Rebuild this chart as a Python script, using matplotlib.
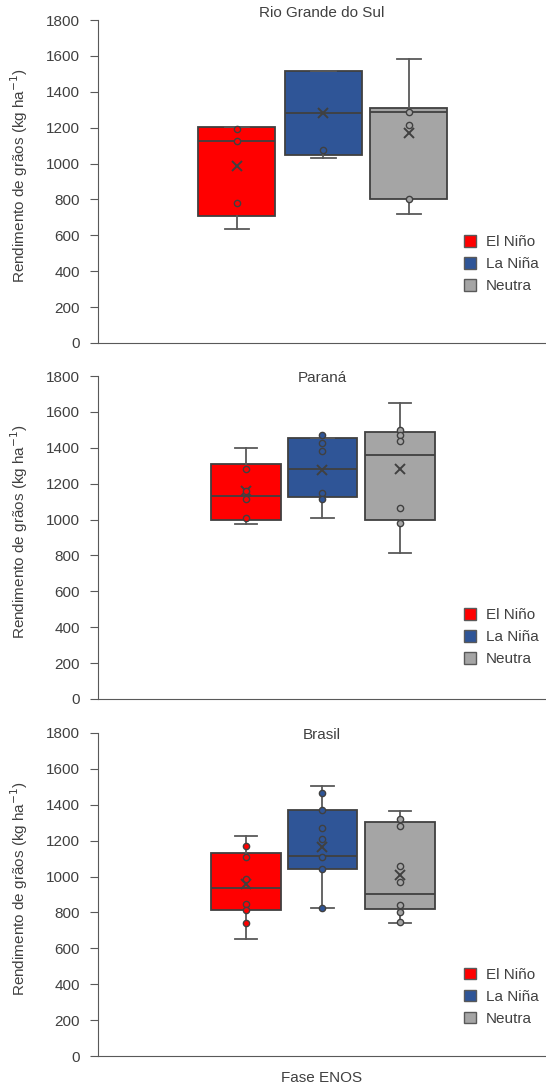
import numpy as np
import matplotlib.pyplot as plt
from matplotlib.patches import Patch

plt.rcParams['font.family'] = ['Liberation Sans', 'DejaVu Sans']

fases = ['El Niño', 'La Niña', 'Neutra']
cores = ['#ff0000', '#2f5597', '#a5a5a5']
regioes = ['Rio Grande do Sul', 'Paraná', 'Brasil']

# box stats per region: (whislo, q1, med, q3, whishi, mean) for El Niño, La Niña, Neutra
rs_stats = [(637, 710, 1128, 1202, 1206, 987),
            (1033, 1050, 1284, 1516, 1516, 1284),
            (717, 803, 1286, 1308, 1583, 1169)]
pr_stats = [(978, 998, 1133, 1311, 1398, 1161),
            (1009, 1124, 1280, 1457, 1457, 1278),
            (811, 998, 1359, 1489, 1652, 1282)]
br_stats = [(650, 815, 937, 1133, 1224, 959),
            (824, 1043, 1117, 1372, 1502, 1165),
            (741, 817, 902, 1304, 1363, 1006)]

# inner points shown
rs_pts = [[1191, 1128, 779], [1076], [1286, 1213, 803]]
pr_pts = [[1282, 1161, 1115, 1011], [1470, 1428, 1383, 1148, 1115], [1500, 1469, 1439, 1067, 979]]
br_pts = [[1168, 1109, 989, 848, 813, 741], [1467, 1372, 1270, 1211, 1109, 1041, 824],
          [1318, 1282, 1059, 968, 839, 800, 744]]

todas_stats = [rs_stats, pr_stats, br_stats]
todos_pts = [rs_pts, pr_pts, br_pts]

# layout (axes fraction) per panel
pos_painel = [([0.310, 0.503, 0.694], 0.172),
              ([0.330, 0.501, 0.674], 0.156),
              ([0.330, 0.501, 0.674], 0.156)]
titulo_y = [1.022, 0.995, 0.995]
legenda_y = [0.130, 0.077, 0.070]

fig = plt.figure(figsize=(5.46, 10.88), dpi=100)
W, H = 546, 1088
tops = [20, 376, 733]
left_px, right_px = 98, 546
h_px = 323
txt = '#404040'

for i, reg in enumerate(regioes):
    ax = fig.add_axes([left_px / W, 1 - (tops[i] + h_px) / H,
                       (right_px - left_px) / W, h_px / H])
    pos, larg = pos_painel[i]
    bxps = []
    for s in todas_stats[i]:
        bxps.append(dict(whislo=s[0], q1=s[1], med=s[2], q3=s[3], whishi=s[4],
                         mean=s[5], fliers=[]))
    bp = ax.bxp(bxps, positions=pos, widths=larg, patch_artist=True, showmeans=True,
                manage_ticks=False,
                boxprops=dict(edgecolor='#404040', linewidth=1.3),
                medianprops=dict(color='#404040', linewidth=1.3),
                whiskerprops=dict(color='#595959', linewidth=1.3),
                capprops=dict(color='#595959', linewidth=1.3),
                capwidths=larg * 0.32,
                meanprops=dict(marker='x', markersize=7.5, markeredgecolor='#404040',
                               markeredgewidth=1.4))
    for patch, c in zip(bp['boxes'], cores):
        patch.set_facecolor(c)
    for j, pts in enumerate(todos_pts[i]):
        ax.plot([pos[j]] * len(pts), pts, 'o', markersize=4.5, markerfacecolor=cores[j],
                markeredgecolor='#404040', markeredgewidth=1.0, linestyle='none', zorder=4)

    ax.set_xlim(0, 1)
    ax.set_ylim(0, 1800)
    ax.set_yticks(np.arange(0, 1801, 200))
    ax.set_xticks([])
    for sp in ['top', 'right']:
        ax.spines[sp].set_visible(False)
    for sp in ['left', 'bottom']:
        ax.spines[sp].set_color('#595959')
    ax.tick_params(axis='y', colors='#595959', labelcolor=txt, labelsize=11,
                   length=5.5, pad=7.5, direction='out')
    ax.set_ylabel('Rendimento de grãos (kg ha$^{-1}$)', fontsize=11, color=txt)
    ax.yaxis.set_label_coords(-0.152, 0.52)
    ax.text(0.5, titulo_y[i], reg, transform=ax.transAxes, ha='center', va='center',
            fontsize=11, color=txt)
    handles = [Patch(facecolor=c, edgecolor='#595959', label=f) for f, c in zip(fases, cores)]
    ax.legend(handles=handles, loc='lower right', bbox_to_anchor=(1.0, legenda_y[i]),
              frameon=False, fontsize=11, handlelength=0.78, handleheight=0.78,
              handletextpad=0.65, labelspacing=0.52, labelcolor=txt, borderaxespad=0.1)
    if i == 2:
        ax.set_xlabel('Fase ENOS', fontsize=11, color=txt, labelpad=11)

fig.savefig('out.png', dpi=100)
